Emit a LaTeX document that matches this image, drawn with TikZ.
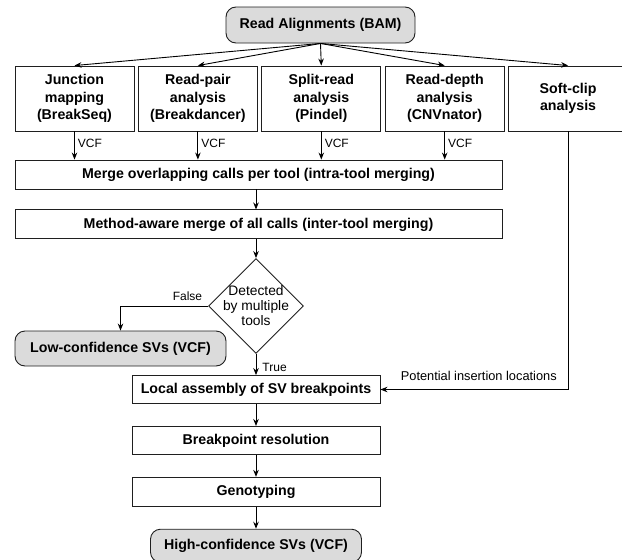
\documentclass[tikz,border=0pt]{standalone}
\usepackage{fontspec}
\setmainfont{Liberation Sans}
\usetikzlibrary{positioning, calc, arrows.meta, shapes.geometric}

\begin{document}
\begin{tikzpicture}[x=1pt, y=-1pt, line width=0.9pt,
    box/.style={draw=black!88, fill=white, font=\fontsize{14.2}{17.5}\selectfont\bfseries, align=center, inner sep=0pt},
    term/.style={box, rounded corners=10pt, fill=black!14},
    lbl/.style={font=\fontsize{12}{15}\selectfont, inner sep=1pt},
    >={Stealth[length=7pt,width=5.5pt]}]
    \useasboundingbox (0,0) rectangle (622,560);

    \node (bam box) at (320.5,25) [term, minimum width=189pt, minimum height=36pt] {Read Alignments (BAM)};

    \node (junction box) at (74.5,98.5) [box, minimum width=119pt, minimum height=65pt] {Junction\\mapping\\(BreakSeq)};
    \node[right=3.5pt of junction box] (pair box) [box, minimum width=119pt, minimum height=65pt] {Read-pair\\analysis\\(Breakdancer)};
    \node[right=3.5pt of pair box] (split box) [box, minimum width=119pt, minimum height=65pt] {Split-read\\analysis\\(Pindel)};
    \node[right=3.5pt of split box] (depth box) [box, minimum width=119pt, minimum height=65pt] {Read-depth\\analysis\\(CNVnator)};
    \node[right=3.5pt of depth box] (soft box) [box, minimum width=119pt, minimum height=65pt] {Soft-clip\\analysis};

    \draw[->] (bam box.south) -- (junction box.north);
    \draw[->] (bam box.south) -- (pair box.north);
    \draw[->] (bam box.south) -- (split box.north);
    \draw[->] (bam box.south) -- (depth box.north);
    \draw[->] (bam box.south) -- (soft box.north);

    \node (merge box) at (258.5,174.5) [box, minimum width=487pt, minimum height=29pt] {Merge overlapping calls per tool (intra-tool merging)};
    \node[below=20pt of merge box] (method box) [box, minimum width=487pt, minimum height=29pt] {Method-aware merge of all calls (inter-tool merging)};

    \draw[->] (junction box.south) -- (junction box.south |- merge box.north) node[lbl, pos=0.41, anchor=west, xshift=2pt] {VCF};
    \draw[->] (pair box.south) -- (pair box.south |- merge box.north) node[lbl, pos=0.41, anchor=west, xshift=2pt] {VCF};
    \draw[->] (split box.south) -- (split box.south |- merge box.north) node[lbl, pos=0.41, anchor=west, xshift=2pt] {VCF};
    \draw[->] (depth box.south) -- (depth box.south |- merge box.north) node[lbl, pos=0.41, anchor=west, xshift=2pt] {VCF};

    % decision
    \node (detect diamond) at (256,306) [diamond, draw=black!88, fill=white, inner sep=0pt, minimum width=95pt, minimum height=95pt,
        label={[lbl, font=\fontsize{13.8}{15}\selectfont, align=center]center:{Detected\\by multiple\\tools}}] {};

    \draw[->] (merge box.south -| detect diamond.north) -- (method box.north -| detect diamond.north);
    \draw[->] (method box.south -| detect diamond.north) -- (detect diamond.north);

    \node (low box) at (120.5,348.5) [term, minimum width=211pt, minimum height=35pt] {Low-confidence SVs (VCF)};
    \draw[->] (detect diamond.west) -| (low box.north) node[lbl, pos=0, anchor=south east, xshift=-4.5pt, yshift=3.7pt] {False};

    \node (local box) at (256,389.5) [box, minimum width=248pt, minimum height=28pt] {Local assembly of SV breakpoints};
    \node[below=22pt of local box] (resolve box) [box, minimum width=248pt, minimum height=28pt] {Breakpoint resolution};
    \node[below=22pt of resolve box] (geno box) [box, minimum width=248pt, minimum height=29pt] {Genotyping};
    \node[below=22pt of geno box] (high box) [term, minimum width=211pt, minimum height=33pt] {High-confidence SVs (VCF)};

    \draw[->] (detect diamond.south) -- (detect diamond.south |- local box.north) node[lbl, pos=0.62, anchor=west, xshift=5pt] {True};
    \draw[->] (soft box.south) |- (local box.east) node[lbl, font=\fontsize{12.8}{15}\selectfont, pos=0.738, above=7pt] {Potential insertion locations};

    \draw[->] (local box) -- (resolve box);
    \draw[->] (resolve box) -- (geno box);
    \draw[->] (geno box) -- (high box);
\end{tikzpicture}
\end{document}
